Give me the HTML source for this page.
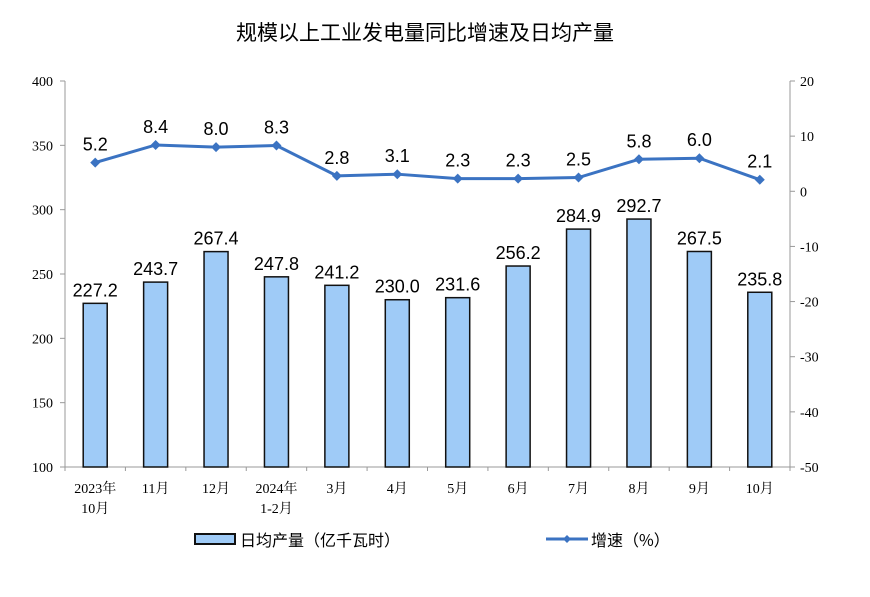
<!DOCTYPE html>
<html><head><meta charset="utf-8"><style>
body{margin:0;background:#fff;}
svg text{font-family:"Liberation Sans","Noto Sans CJK SC",sans-serif;}
.cj{font-family:"Liberation Serif","Noto Serif CJK SC",serif;}
</style></head><body>
<svg id="c" width="870" height="592" xmlns="http://www.w3.org/2000/svg">
<text x="425" y="40" text-anchor="middle" font-size="21" style="font-family:'Noto Sans CJK SC',sans-serif">规模以上工业发电量同比增速及日均产量</text>
<g id="g"></g>
</svg>
<script>
const categories=[["2023年","10月"],["11月"],["12月"],["2024年","1-2月"],["3月"],["4月"],["5月"],["6月"],["7月"],["8月"],["9月"],["10月"]];
const output=[227.2,243.7,267.4,247.8,241.2,230.0,231.6,256.2,284.9,292.7,267.5,235.8];
const growth=[5.2,8.4,8.0,8.3,2.8,3.1,2.3,2.3,2.5,5.8,6.0,2.1];
const leftTicks=[100,150,200,250,300,350,400];
const rightTicks=[-50,-40,-30,-20,-10,0,10,20];
const X0=65,X1=790,YT=81,YB=467;
const yL=v=>YB-(v-100)/300*(YB-YT);
const yR=v=>YB-(v+50)/70*(YB-YT);
const step=(X1-X0)/categories.length;
const xC=i=>X0+step*(i+0.5);
const g=document.getElementById('g');const NS='http://www.w3.org/2000/svg';
function mk(t,a,txt){const e=document.createElementNS(NS,t);for(const k in a)e.setAttribute(k,a[k]);if(txt!=null)e.textContent=txt;g.appendChild(e);return e;}
let e;
e=mk('line',{x1:X0,y1:YT,x2:X0,y2:YB,stroke:'#999'});


e=mk('line',{x1:X1,y1:YT,x2:X1,y2:YB,stroke:'#999'});


e=mk('line',{x1:X0,y1:YB,x2:X1,y2:YB,stroke:'#999'});


leftTicks.forEach(v=>{
 mk('line',{x1:X0-5,y1:yL(v),x2:X0,y2:yL(v),stroke:'#999'});
 e=mk('text',{x:X0-12,y:yL(v)+5,'text-anchor':'end','font-size':14,class:'cj'},v);
 
 
});
rightTicks.forEach(v=>{
 mk('line',{x1:X1,y1:yR(v),x2:X1+5,y2:yR(v),stroke:'#999'});
 e=mk('text',{x:X1+10,y:yR(v)+5,'text-anchor':'start','font-size':14,class:'cj'},v);
 
 
});
for(let i=0;i<=categories.length;i++)mk('line',{x1:X0+step*i,y1:YB,x2:X0+step*i,y2:YB+4,stroke:'#999'});
categories.forEach((c,i)=>{c.forEach((s,j)=>{
 e=mk('text',{x:xC(i),y:YB+26+j*20,'text-anchor':'middle','font-size':14,class:'cj'},s);
 
 
});});
const bw=24;
output.forEach((v,i)=>{
 e=mk('rect',{x:xC(i)-bw/2,y:yL(v),width:bw,height:YB-yL(v),fill:'#9fcbf7',stroke:'#111','stroke-width':1.5});
 
 
 e=mk('text',{x:xC(i),y:yL(v)-7,'text-anchor':'middle','font-size':18},v.toFixed(1));
 
 
});
e=mk('polyline',{points:growth.map((v,i)=>xC(i)+','+yR(v)).join(' '),fill:'none',stroke:'#3b73c2','stroke-width':3});


growth.forEach((v,i)=>{
 const x=xC(i),y=yR(v);
 e=mk('polygon',{points:`${x},${y-5} ${x+5},${y} ${x},${y+5} ${x-5},${y}`,fill:'#3b73c2'});
 
 
 e=mk('text',{x:x,y:y-12,'text-anchor':'middle','font-size':18},v.toFixed(1));
 
 
});
e=mk('rect',{x:195,y:534,width:40,height:10,fill:'#9fcbf7',stroke:'#111','stroke-width':2});


e=mk('text',{x:240,y:546,'font-size':16,style:"font-family:'Noto Sans CJK SC',sans-serif"},'日均产量（亿千瓦时）');


e=mk('line',{x1:546,y1:539,x2:588,y2:539,stroke:'#3b73c2','stroke-width':3});


mk('polygon',{points:'567,535 571,539 567,543 563,539',fill:'#3b73c2'});
e=mk('text',{x:591,y:546,'font-size':16,style:"font-family:'Noto Sans CJK SC',sans-serif"},'增速（%）');


</script>
</body></html>
